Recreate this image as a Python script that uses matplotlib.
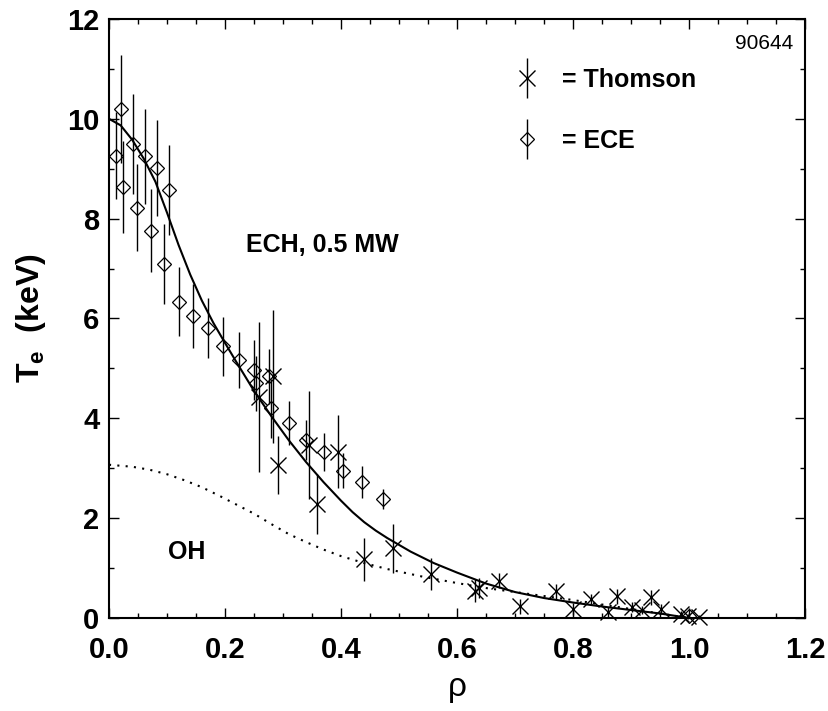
import matplotlib
matplotlib.use('Agg')
import matplotlib.pyplot as plt
import numpy as np
from matplotlib.ticker import MultipleLocator
from matplotlib.container import ErrorbarContainer
from matplotlib.legend_handler import HandlerErrorbar

# --- ECE data (diamonds) ---
ece_rho = [0.0115, 0.0207, 0.0247, 0.041, 0.049, 0.062, 0.072, 0.083, 0.095, 0.103,
           0.120, 0.145, 0.171, 0.197, 0.224, 0.2506, 0.253, 0.276, 0.280, 0.310,
           0.340, 0.371, 0.403, 0.437, 0.473, 1.000]
ece_te = [9.26, 10.19, 8.64, 9.50, 8.22, 9.25, 7.76, 9.01, 7.09, 8.58,
          6.34, 6.05, 5.81, 5.44, 5.17, 4.96, 4.70, 4.84, 4.20, 3.90,
          3.57, 3.32, 2.95, 2.72, 2.38, 0.05]
ece_err = [0.87, 1.08, 0.92, 1.00, 0.87, 0.95, 0.83, 0.96, 0.80, 0.90,
           0.70, 0.65, 0.60, 0.59, 0.56, 0.60, 0.55, 0.55, 0.59, 0.44,
           0.40, 0.38, 0.35, 0.32, 0.20, 0.05]

# --- Thomson data (crosses) ---
ts_rho = [0.259, 0.283, 0.292, 0.345, 0.358, 0.395, 0.440, 0.490, 0.555, 0.631,
          0.638, 0.672, 0.709, 0.771, 0.800, 0.831, 0.860, 0.876, 0.902, 0.919,
          0.935, 0.952, 0.987, 0.998, 1.018]
ts_te = [4.42, 4.84, 3.07, 3.47, 2.28, 3.33, 1.18, 1.40, 0.88, 0.55,
         0.60, 0.75, 0.24, 0.54, 0.19, 0.39, 0.13, 0.44, 0.23, 0.16,
         0.42, 0.18, 0.08, 0.04, 0.02]
ts_err = [1.50, 1.34, 0.58, 1.08, 0.60, 0.73, 0.43, 0.49, 0.32, 0.23,
          0.20, 0.15, 0.15, 0.15, 0.12, 0.10, 0.10, 0.15, 0.10, 0.08,
          0.15, 0.10, 0.06, 0.05, 0.05]

# --- fitted profiles ---
ech_rho = [0.00, 0.02, 0.04, 0.06, 0.08, 0.10, 0.12, 0.14, 0.16, 0.18, 0.20, 0.22,
           0.25, 0.28, 0.31, 0.34, 0.37, 0.40, 0.42, 0.44, 0.46, 0.48, 0.52, 0.56,
           0.60, 0.65, 0.70, 0.75, 0.80, 0.85, 0.90, 0.95, 1.00]
ech_te = [10.0, 9.87, 9.58, 9.20, 8.74, 8.12, 7.47, 6.88, 6.36, 5.91, 5.51, 5.12,
          4.55, 4.04, 3.56, 3.12, 2.72, 2.35, 2.12, 1.92, 1.75, 1.60, 1.33, 1.10,
          0.91, 0.69, 0.52, 0.40, 0.31, 0.23, 0.16, 0.09, 0.0]

oh_rho = [0.00, 0.04, 0.07, 0.10, 0.13, 0.16, 0.19, 0.22, 0.25, 0.28, 0.31, 0.34,
          0.37, 0.40, 0.44, 0.48, 0.54, 0.60, 0.65, 0.70, 0.75, 0.80, 0.85, 0.90,
          0.95, 1.00]
oh_te = [3.07, 3.03, 2.97, 2.88, 2.76, 2.62, 2.45, 2.27, 2.09, 1.88, 1.68, 1.52,
         1.37, 1.24, 1.10, 0.98, 0.83, 0.70, 0.60, 0.52, 0.44, 0.36, 0.27, 0.18,
         0.09, 0.0]

plt.rcParams['font.family'] = ['Liberation Sans', 'DejaVu Sans']
plt.rcParams['mathtext.fontset'] = 'custom'
plt.rcParams['mathtext.rm'] = 'Liberation Sans:bold'
plt.rcParams['mathtext.default'] = 'rm'

fig = plt.figure(figsize=(8.29, 7.11), dpi=100)
ax = fig.add_axes([0.1315, 0.1308, 0.8396, 0.8425])

# fits
ax.plot(ech_rho, ech_te, color='k', linewidth=1.5)
ax.plot(oh_rho, oh_te, color='k', linewidth=1.5, linestyle=(0, (1, 3)))

# data
ts = ax.errorbar(ts_rho, ts_te, yerr=ts_err, fmt='x', color='k', ms=11, mew=1.0,
                 elinewidth=1.0, capsize=0, clip_on=False, label='= Thomson')
ece = ax.errorbar(ece_rho, ece_te, yerr=ece_err, fmt='D', mfc='none', mec='k',
                  ecolor='k', ms=7.5, mew=0.9, elinewidth=1.0, capsize=0,
                  clip_on=False, label='= ECE')

ax.legend(handles=[ts, ece], loc='upper left', bbox_to_anchor=(0.583, 0.919),
          frameon=False, numpoints=1, handlelength=1.0, handletextpad=0.9,
          labelspacing=1.5, borderpad=0, borderaxespad=0,
          prop={'size': 18, 'weight': 'bold'},
          handler_map={ErrorbarContainer: HandlerErrorbar(yerr_size=0.8)})

# annotations
ax.text(0.236, 7.47, 'ECH, 0.5 MW', fontsize=18, fontweight='bold', va='center')
ax.text(0.102, 1.32, 'OH', fontsize=18, fontweight='bold', va='center')
ax.text(1.179, 11.5, '90644', fontsize=15, ha='right', va='center')

# axes
ax.set_xlim(0, 1.2)
ax.set_ylim(0, 12)
ax.set_xticks(np.arange(0, 1.21, 0.2))
ax.set_xticklabels([f'{v:.1f}' for v in np.arange(0, 1.21, 0.2)])
ax.set_yticks(np.arange(0, 13, 2))
ax.xaxis.set_minor_locator(MultipleLocator(0.05))
ax.yaxis.set_minor_locator(MultipleLocator(1))
ax.tick_params(which='both', direction='in', top=True, right=True, width=1.0)
ax.tick_params(which='major', length=7, labelsize=21)
ax.tick_params(which='minor', length=3.5)
ax.tick_params(axis='x', pad=13)
ax.tick_params(axis='y', pad=7)
for lab in ax.get_xticklabels() + ax.get_yticklabels():
    lab.set_fontweight('bold')
for s in ax.spines.values():
    s.set_linewidth(1.5)

ax.set_xlabel('ρ', fontsize=24)
ax.xaxis.set_label_coords(0.5, -0.09)
ax.set_ylabel('T$_{e}$  (keV)', fontsize=23, fontweight='bold')
ax.yaxis.set_label_coords(-0.088, 0.5)

fig.savefig('out.png', dpi=100)
